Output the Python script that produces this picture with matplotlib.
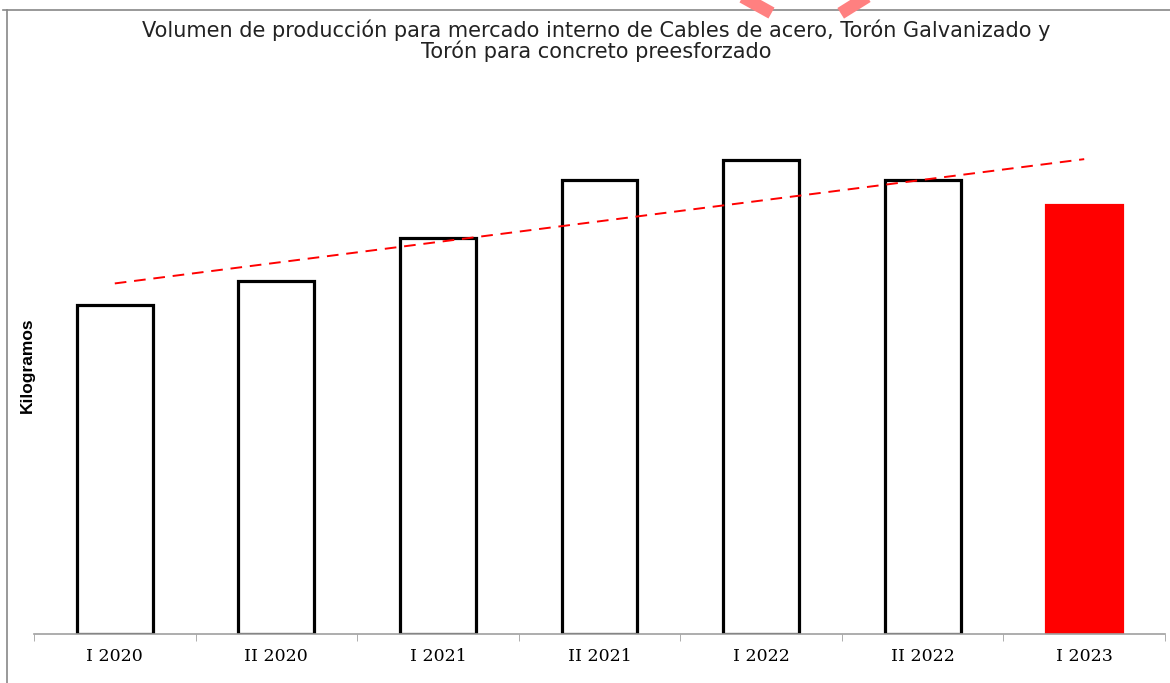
import numpy as np
import matplotlib
matplotlib.use("Agg")
import matplotlib.pyplot as plt
from matplotlib.lines import Line2D

periodos = ["I 2020", "II 2020", "I 2021", "II 2021", "I 2022", "II 2022", "I 2023"]
kilogramos = [329, 353, 396, 454, 474, 454, 429]
relleno = ["white"] * 6 + ["#ff0000"]
borde = ["black"] * 6 + ["#ff0000"]

fig = plt.figure(figsize=(11.7, 6.83), dpi=100)
ax = fig.add_axes([34 / 1170, 49 / 683, 1131 / 1170, 534 / 683])

x = np.arange(len(periodos))
ax.bar(x, kilogramos, width=0.47, color=relleno, edgecolor=borde, linewidth=2.3, zorder=2)

# linea de tendencia
m, b = np.polyfit(x, kilogramos, 1)
ax.plot(x, m * x + b, color="#ff0000", linestyle=(0, (6, 4)), linewidth=1.4, zorder=3)

ax.set_xlim(-0.5, len(periodos) - 0.5)
ax.set_ylim(0, 534)
ax.set_yticks([])
ax.set_xticks(x)
ax.set_xticklabels(periodos, family="DejaVu Serif", fontsize=12.5)
ax.tick_params(axis="x", length=0, pad=10)
ax.set_xticks(np.arange(-0.5, len(periodos)), minor=True)
ax.tick_params(axis="x", which="minor", length=5, color="#a0a0a0", direction="out")
for s in ["top", "right", "left"]:
    ax.spines[s].set_visible(False)
ax.spines["bottom"].set_color("#a0a0a0")
ax.spines["bottom"].set_linewidth(1.2)

fig.text(27 / 1170, 1 - 365 / 683, "Kilogramos", rotation=90, ha="center", va="center",
         family="Liberation Sans", fontsize=12.5, fontweight="bold")
fig.text(596 / 1170, 1 - 41 / 683,
         "Volumen de producción para mercado interno de Cables de acero, Torón Galvanizado y\nTorón para concreto preesforzado",
         ha="center", va="center", family="DejaVu Sans", fontsize=15, color="#222222",
         linespacing=1.0)

# marco
fig.add_artist(Line2D([3 / 1170, 1], [1 - 10 / 683] * 2, color="#888888", linewidth=1.2))
fig.add_artist(Line2D([7 / 1170] * 2, [1 - 10 / 683, 0], color="#888888", linewidth=1.2))

# trazos rojos de la parte superior
fig.add_artist(Line2D([748 / 1170, 766 / 1170], [1, 1 - 10 / 683], color="#ff8080", linewidth=9))
fig.add_artist(Line2D([862 / 1170, 846 / 1170], [1, 1 - 10 / 683], color="#ff8080", linewidth=9))

fig.savefig("out.png", dpi=100)
